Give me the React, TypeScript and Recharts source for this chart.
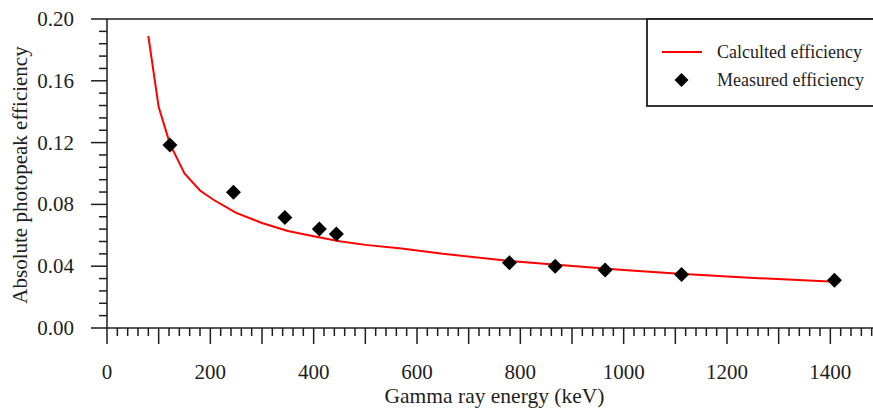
import { ComposedChart, Line, Scatter, XAxis, YAxis, ReferenceLine, Label } from 'recharts';

// calculated efficiency curve
const CALC_ENERGY = [80, 100, 122, 150, 180, 206, 250, 300, 350, 400, 450, 500, 570, 650, 780, 870, 920, 1000, 1100, 1226, 1408];
const CALC_EFF = [0.189, 0.143, 0.119, 0.1, 0.089, 0.083, 0.0745, 0.068, 0.0628, 0.0594, 0.0562, 0.0538, 0.0515, 0.048, 0.0434, 0.041, 0.0397, 0.0375, 0.0352, 0.0328, 0.03];

// measured points (Eu-152 lines)
const MEAS_ENERGY = [121.8, 244.7, 344.3, 411.1, 444.0, 778.9, 867.4, 964.1, 1112.1, 1408.0];
const MEAS_EFF = [0.1184, 0.0878, 0.0716, 0.0641, 0.0608, 0.0423, 0.04, 0.0375, 0.0347, 0.0309];

const SERIES_NAMES = ['Calculted efficiency', 'Measured efficiency'];
const X_TITLE = 'Gamma ray energy (keV)';
const Y_TITLE = 'Absolute photopeak efficiency';

// minor ticks every 20 keV / 0.008, labels on every 200 keV / 0.04
const X_TICKS = Array.from({ length: 76 }, (_, i) => i * 20);
const Y_TICKS = Array.from({ length: 26 }, (_, i) => +(i * 0.008).toFixed(3));

const calcData = CALC_ENERGY.map((e, i) => ({ e, eff: CALC_EFF[i] }));
const measData = MEAS_ENERGY.map((e, i) => ({ e, eff: MEAS_EFF[i] }));

const FONT = '"Liberation Serif", "Times New Roman", serif';
const INK = '#1e1e1e';

const XTick = ({ x, y, payload }: any) => {
  const v = payload.value;
  const len = v % 100 === 0 ? 16 : 8;
  return (
    <g>
      <line x1={x} x2={x} y1={y} y2={y + len} stroke={INK} strokeWidth={1.5} />
      {v % 200 === 0 && (
        <text x={x} y={y + 51} textAnchor="middle" fontFamily={FONT} fontSize={21} fill={INK}>
          {v}
        </text>
      )}
    </g>
  );
};

const YTick = ({ x, y, payload, index }: any) => {
  const major = index % 5 === 0;
  return (
    <g>
      <line x1={x - (major ? 16 : 8)} x2={x} y1={y} y2={y} stroke={INK} strokeWidth={1.5} />
      {major && (
        <text x={x - 33} y={y + 7} textAnchor="end" fontFamily={FONT} fontSize={21} fill={INK}>
          {Number(payload.value).toFixed(2)}
        </text>
      )}
    </g>
  );
};

const Diamond = ({ cx, cy }: any) => (
  <polygon points={`${cx},${cy - 7.5} ${cx + 7.5},${cy} ${cx},${cy + 7.5} ${cx - 7.5},${cy}`} fill="#000" />
);

// legend box, its right edge runs past the frame
const LegendBox = () => (
  <svg width={320} height={90} style={{ position: 'absolute', left: 646, top: 18 }}>
    <rect x={1} y={1} width={340} height={87} fill="#fff" stroke={INK} strokeWidth={1.8} />
    <line x1={16} x2={56} y1={34} y2={34} stroke="#ff0000" strokeWidth={2} />
    <text x={71} y={40} fontFamily={FONT} fontSize={18} fill={INK}>{SERIES_NAMES[0]}</text>
    <polygon points="35.5,55 42.5,62 35.5,69 28.5,62" fill="#000" />
    <text x={71} y={68} fontFamily={FONT} fontSize={18} fill={INK}>{SERIES_NAMES[1]}</text>
  </svg>
);

export default function App() {
  return (
    <div style={{ position: 'relative', width: 873, height: 410, overflow: 'hidden', background: '#fff' }}>
      <style>{'body { margin: 0; overflow: hidden; }'}</style>
      <ComposedChart width={890} height={410} margin={{ top: 19, right: 8, bottom: 0, left: 0 }}>
        <XAxis
          type="number"
          dataKey="e"
          domain={[0, 1500]}
          ticks={X_TICKS}
          interval={0}
          tickSize={0}
          tickMargin={0}
          tick={<XTick />}
          axisLine={{ stroke: INK, strokeWidth: 1.5 }}
          height={82}
          allowDataOverflow
        >
          <Label
            content={({ viewBox }: any) => (
              <text x={viewBox.x + viewBox.width / 2} y={403} textAnchor="middle" fontFamily={FONT} fontSize={21.5} fill={INK}>
                {X_TITLE}
              </text>
            )}
          />
        </XAxis>
        <YAxis
          type="number"
          dataKey="eff"
          domain={[0, 0.2]}
          ticks={Y_TICKS}
          interval={0}
          tickSize={0}
          tickMargin={0}
          tick={<YTick />}
          axisLine={{ stroke: INK, strokeWidth: 1.5 }}
          width={107}
          allowDataOverflow
        >
          <Label
            content={() => (
              <text x={27} y={175} transform="rotate(-90, 27, 175)" textAnchor="middle" fontFamily={FONT} fontSize={21} fill={INK}>
                {Y_TITLE}
              </text>
            )}
          />
        </YAxis>
        <ReferenceLine y={0.2} stroke={INK} strokeWidth={1.5} />
        <Line
          data={calcData}
          dataKey="eff"
          name={SERIES_NAMES[0]}
          type="linear"
          stroke="#ff0000"
          strokeWidth={2}
          dot={false}
          activeDot={false}
          isAnimationActive={false}
        />
        <Scatter
          data={measData}
          dataKey="eff"
          name={SERIES_NAMES[1]}
          fill="#000"
          shape={<Diamond />}
          isAnimationActive={false}
        />
      </ComposedChart>
      <LegendBox />
    </div>
  );
}
